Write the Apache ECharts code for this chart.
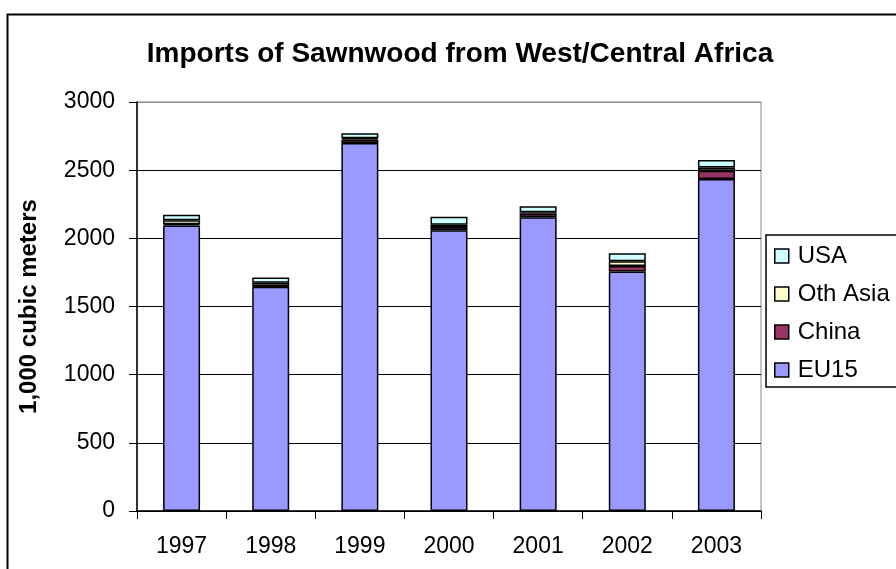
<!DOCTYPE html>
<html>
<head>
<meta charset="utf-8">
<script src="https://cdn.jsdelivr.net/npm/echarts@6/dist/echarts.min.js"></script>
<style>html,body{margin:0;padding:0;background:#fff}#c{width:896px;height:569px}</style>
</head>
<body>
<div id="c"></div>
<script>
const years = ['1997','1998','1999','2000','2001','2002','2003'];
const eu15     = [2095, 1645, 2700, 2059, 2154, 1757, 2435];
const china    = [8, 5, 25, 25, 26, 40, 60];
const othAsia  = [30, 25, 10, 15, 12, 35, 25];
const usa      = [40, 38, 35, 60, 44, 58, 55];
const yTicks = {min: 0, max: 3000, interval: 500};

const FONT = '"Liberation Sans", Arial, sans-serif';
const chart = echarts.init(document.getElementById('c'), null, {renderer: 'canvas'});
function s(name, data, color) {
  return {
    name, type: 'bar', stack: 'all', data, barWidth: 37,
    itemStyle: {color, borderColor: '#000', borderWidth: 1.5},
    emphasis: {disabled: true}
  };
}
chart.setOption({
  animation: false,
  textStyle: {fontFamily: FONT},
  title: {
    text: 'Imports of Sawnwood from West/Central Africa',
    left: 455, top: 35, textAlign: 'center',
    textStyle: {fontFamily: FONT, fontWeight: 'bold', fontSize: 28, color: '#000'}
  },
  graphic: [{
    type: 'rect', left: 5, top: 12, silent: true,
    shape: {width: 1000, height: 1000},
    style: {fill: 'none', stroke: '#000', lineWidth: 2}
  }],
  grid: {left: 137, right: 135, top: 102, bottom: 58, show: true, borderColor: '#888', borderWidth: 1, backgroundColor: 'transparent'},
  legend: {
    orient: 'vertical', left: 766, top: 235,
    data: ['USA', 'Oth Asia', 'China', 'EU15'],
    icon: 'rect', itemWidth: 14, itemHeight: 14, itemGap: 14,
    padding: [9, 12, 5, 8],
    borderColor: '#000', borderWidth: 1.5, backgroundColor: '#fff',
    itemStyle: {borderWidth: 1.5, borderColor: '#000'},
    textStyle: {fontFamily: FONT, fontSize: 24, color: '#000', padding: [0, 0, 0, 4], lineHeight: 24},
    selectedMode: false
  },
  xAxis: {
    type: 'category', data: years, boundaryGap: true,
    axisLine: {lineStyle: {color: '#000', width: 1.5}},
    axisTick: {show: true, length: 8, inside: false, lineStyle: {color: '#000', width: 1}},
    axisLabel: {fontFamily: FONT, fontSize: 23, color: '#000', margin: 24}
  },
  yAxis: {
    type: 'value', min: yTicks.min, max: yTicks.max, interval: yTicks.interval,
    name: '1,000 cubic meters', nameLocation: 'middle', nameGap: 96, nameRotate: 90,
    nameTextStyle: {fontFamily: FONT, fontWeight: 'bold', fontSize: 24, color: '#000'},
    axisLine: {show: true, lineStyle: {color: '#000', width: 1.5}},
    axisTick: {show: true, length: 8, lineStyle: {color: '#000', width: 1}},
    axisLabel: {fontFamily: FONT, fontSize: 23, color: '#000', margin: 22, formatter: v => String(v)},
    splitLine: {show: true, lineStyle: {color: ['#000','#000','#000','#000','#000','#000','#888'], width: 1.2}}
  },
  series: [
    s('EU15', eu15, '#9999FF'),
    s('China', china, '#993366'),
    s('Oth Asia', othAsia, '#FFFFCC'),
    s('USA', usa, '#CCFFFF')
  ]
});
</script>
</body>
</html>
